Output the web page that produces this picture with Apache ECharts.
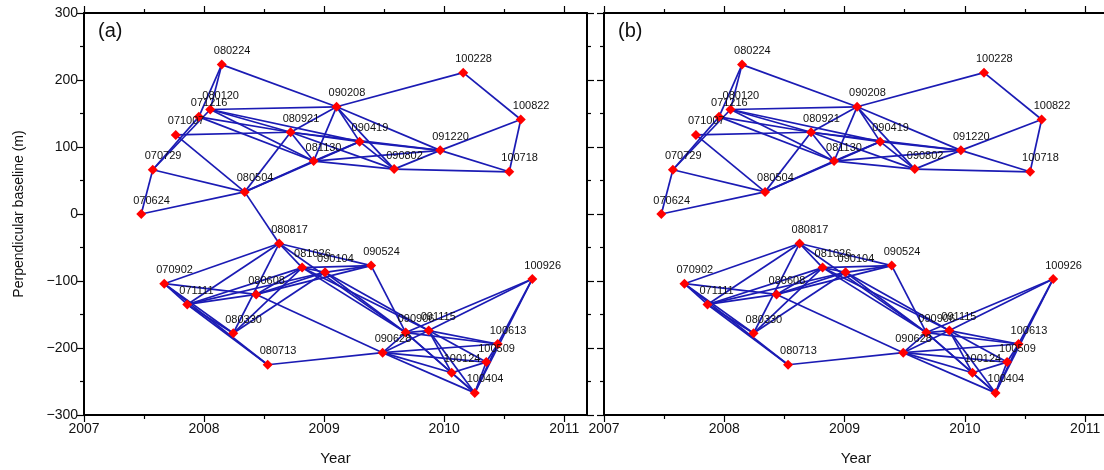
<!DOCTYPE html>
<html><head><meta charset="utf-8">
<script src="https://cdn.jsdelivr.net/npm/echarts@6/dist/echarts.min.js"></script>
<style>html,body{margin:0;padding:0;background:#fff}#c{width:1104px;height:470px}</style>
</head><body><div id="c"></div>
<script>
// acquisition dates (yymmdd)
const dates = ['070624','070729','071007','071216','080120','080224','080504','080921','081130','090208','090419','090802','091220','100228','100718','100822',
  '070902','071111','080330','080608','080713','080817','081026','090104','090524','090628','090906','091115','100124','100404','100509','100613','100926'];
// perpendicular baselines (m)
const baselines = [0,66,118,145,156,223,33,122,79,160,108,67,95,211,63,141,
  -104,-135,-178,-120,-225,-44,-80,-87,-77,-207,-177,-174,-237,-267,-221,-194,-97];
// interferometric pairs common to both panels
const linksCommon = [
  ['070624','070729'],['070624','080504'],['070729','080504'],['070729','071216'],['070729','080120'],
  ['080224','071216'],['080224','080120'],['080224','090208'],['071007','080921'],['071007','080504'],
  ['080120','090208'],['080120','080921'],['071216','080921'],['071216','081130'],['080120','081130'],
  ['080120','090419'],['080504','080921'],['080504','081130'],['080504','090419'],['080921','081130'],
  ['080921','090208'],['080921','090419'],['080921','091220'],['080921','090802'],['081130','090208'],
  ['081130','090419'],['081130','090802'],['081130','091220'],['090208','090419'],['090208','090802'],
  ['090208','091220'],['090208','100228'],['090419','090802'],['090419','091220'],['090802','091220'],
  ['090802','100718'],['091220','100718'],['091220','100822'],['100228','100822'],['100718','100822'],
  ['070902','080817'],['070902','071111'],['070902','080330'],['070902','080713'],['071111','080330'],
  ['071111','080713'],['070902','080608'],['080608','090628'],['071111','080817'],['071111','080608'],
  ['071111','081026'],['071111','090104'],['080330','080817'],['080330','081026'],['080330','090104'],
  ['080608','081026'],['080608','090104'],['080608','090524'],['080817','081026'],['080817','090524'],
  ['080817','090906'],['081026','090104'],['081026','090524'],['090104','090524'],['081026','090906'],
  ['081026','091115'],['090104','090906'],['090104','091115'],['090524','090906'],['080713','090628'],
  ['090628','090906'],['090628','091115'],['090628','100124'],['090628','100404'],['090628','100509'],
  ['090628','100613'],['090906','091115'],['090906','100124'],['090906','100404'],['090906','100613'],
  ['090906','100926'],['091115','100124'],['091115','100404'],['091115','100509'],['091115','100613'],
  ['091115','100926'],['100124','100404'],['100124','100509'],['100404','100509'],['100404','100613'],
  ['100509','100613'],['100404','100926'],['100613','100926']
];
// extra pair only in panel (a)
const linksOnlyA = [['080504','080817']];
// tick labels
const yearTicks = [2007,2008,2009,2010,2011];
const halfYearTicks = [2007.5,2008.5,2009.5,2010.5];
const baselineTicks = [-300,-200,-100,0,100,200,300];

function decYear(s){
  const y=2000+(+s.slice(0,2)), m=+s.slice(2,4), d=+s.slice(4,6);
  const t=Date.UTC(y,m-1,d), t0=Date.UTC(y,0,1), t1=Date.UTC(y+1,0,1);
  return y+(t-t0)/(t1-t0);
}
const FONT='"Liberation Sans", Arial, sans-serif';
const XMIN=2007, XMAX=2011.19;
const nodes = dates.map((d,i)=>({name:d, value:[decYear(d), baselines[i]]}));
const toLinks = arr => arr.map(p=>({source:p[0], target:p[1]}));

const grids=[
  {left:84, width:503, top:13, height:402, outerBoundsMode:'none', containLabel:false},
  {left:604, width:504, top:13, height:402, outerBoundsMode:'none', containLabel:false}
];
const axLine={show:true,onZero:false,lineStyle:{color:'#000',width:2}};
const xAxes=[], yAxes=[];
grids.forEach((g,gi)=>{
  ['bottom','top'].forEach(pos=>{
    xAxes.push({gridIndex:gi,type:'value',min:XMIN,max:XMAX,interval:1,position:pos,
      axisLine:axLine,
      axisTick:{show:true,customValues:yearTicks,length:7,lineStyle:{color:'#000',width:1.2}},
      splitLine:{show:false},
      axisLabel:{show:pos==='bottom',customValues:yearTicks,formatter:v=>String(v),fontSize:14,color:'#111',fontFamily:FONT,margin:7},
      name:pos==='bottom'?'Year':'',nameLocation:'middle',nameGap:36,
      nameTextStyle:{fontSize:15,color:'#111',fontFamily:FONT}
    });
    xAxes.push({gridIndex:gi,type:'value',min:XMIN,max:XMAX,interval:1,position:pos,
      axisLine:{show:false,onZero:false},
      axisTick:{show:true,customValues:halfYearTicks,length:4,lineStyle:{color:'#000',width:1.2}},
      splitLine:{show:false},axisLabel:{show:false}
    });
  });
  ['left','right'].forEach(pos=>{
    const lab = gi===0 && pos==='left';
    yAxes.push({gridIndex:gi,type:'value',min:-300,max:300,interval:100,position:pos,
      axisLine:axLine,
      axisTick:{show:true,length:7,lineStyle:{color:'#000',width:1.2}},
      minorTick:{show:true,splitNumber:2,length:4,lineStyle:{color:'#000',width:1.2}},
      splitLine:{show:false},minorSplitLine:{show:false},
      axisLabel:{show:lab,formatter:v=>baselineTicks.includes(v)?String(v).replace('-','\u2212'):'',fontSize:14,color:'#111',fontFamily:FONT,margin:6},
      name:lab?'Perpendicular baseline (m)':'',nameLocation:'middle',nameGap:58,
      nameTextStyle:{fontSize:14,color:'#111',fontFamily:FONT}
    });
  });
});

function graphSeries(gi, links){
  return {type:'graph',coordinateSystem:'cartesian2d',xAxisIndex:gi*4,yAxisIndex:gi*2,
    layout:'none',symbol:'diamond',symbolSize:10,
    itemStyle:{color:'#f00'},
    label:{show:true,formatter:'{b}',position:[-3,-8.5],align:'left',verticalAlign:'middle',fontSize:11,color:'#111',fontFamily:FONT},
    lineStyle:{color:'#1b1bb4',width:1.7,opacity:1,curveness:0},
    emphasis:{disabled:true},silent:true,
    data:nodes.map(n=>({name:n.name,value:n.value.slice()})),
    links:toLinks(links)
  };
}

const chart=echarts.init(document.getElementById('c'),null,{renderer:'canvas'});
chart.setOption({
  animation:false,
  backgroundColor:'#fff',
  title:[
    {text:'(a)',left:93,top:16,textStyle:{fontSize:20,fontWeight:'normal',color:'#111',fontFamily:FONT}},
    {text:'(b)',left:613,top:16,textStyle:{fontSize:20,fontWeight:'normal',color:'#111',fontFamily:FONT}}
  ],
  grid:grids,
  xAxis:xAxes,
  yAxis:yAxes,
  series:[graphSeries(0, linksCommon.concat(linksOnlyA)), graphSeries(1, linksCommon)]
});
</script></body></html>
